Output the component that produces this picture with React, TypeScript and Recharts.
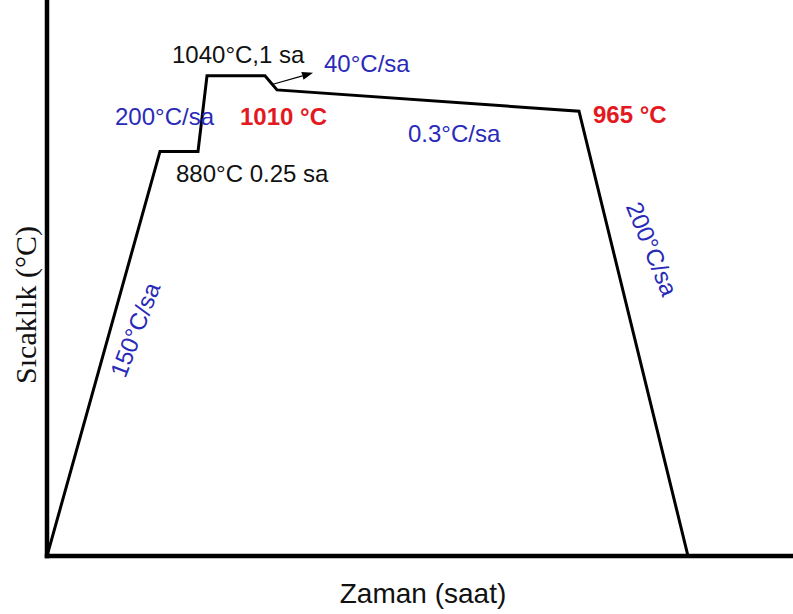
import { LineChart, Line, XAxis, YAxis, ReferenceDot, ReferenceLine, Label } from 'recharts';

// heat-treatment schedule; time axis is schematic (not to scale)
const stepTime = [0, 11.3, 15.1, 16.0, 21.8, 23.0, 53.2, 64.1];
const stepTemp = [25, 880, 880, 1040, 1040, 1010, 965, 25];

const profile = stepTime.map((t, i) => ({ t, temp: stepTemp[i] }));

const BLUE = '#2a2ab8';
const RED = '#e3191f';
const SANS = '"Liberation Sans", Arial, sans-serif';
const SERIF = '"Liberation Serif", "Times New Roman", serif';

type Note = { text: string; t: number; temp: number; color: string; bold?: boolean; angle?: number };

// segment annotations, anchored in chart coordinates
const notes: Note[] = [
  { text: '1040°C,1 sa', t: 12.5, temp: 1067, color: '#111' },
  { text: '40°C/sa', t: 27.7, temp: 1048, color: BLUE },
  { text: '200°C/sa', t: 6.8, temp: 936, color: BLUE },
  { text: '1010 °C', t: 19.3, temp: 936, color: RED, bold: true },
  { text: '880°C 0.25 sa', t: 12.9, temp: 815, color: '#111' },
  { text: '0.3°C/sa', t: 36.1, temp: 900, color: BLUE },
  { text: '965 °C', t: 54.6, temp: 940, color: RED, bold: true },
  { text: '150°C/sa', t: 8.8, temp: 503, color: BLUE, angle: -69 },
  { text: '200°C/sa', t: 60.5, temp: 674, color: BLUE, angle: 68 },
];

// small pointer from the 40°C/sa step to its label
const arrowFrom = { x: 22.6, y: 1022 };
const arrowTo = { x: 26.6, y: 1046 };

const noteShape = (n: Note) => (p: any) => {
  if (n.angle) {
    return (
      <text
        x={p.cx}
        y={p.cy}
        textAnchor="middle"
        dominantBaseline="central"
        transform={`rotate(${n.angle}, ${p.cx}, ${p.cy})`}
        fill={n.color}
        fontFamily={SANS}
        fontSize={24}
      >
        {n.text}
      </text>
    );
  }
  return (
    <text x={p.cx} y={p.cy} fill={n.color} fontFamily={SANS} fontSize={24} fontWeight={n.bold ? 700 : 400}>
      {n.text}
    </text>
  );
};

const Arrow = (p: any) => {
  const { x1, y1, x2, y2 } = p;
  const a = Math.atan2(y2 - y1, x2 - x1);
  const len = 11;
  const half = 4;
  const bx = x2 - len * Math.cos(a);
  const by = y2 - len * Math.sin(a);
  const pts = [
    `${x2},${y2}`,
    `${bx + half * Math.sin(a)},${by - half * Math.cos(a)}`,
    `${bx - half * Math.sin(a)},${by + half * Math.cos(a)}`,
  ].join(' ');
  return (
    <g>
      <line x1={x1} y1={y1} x2={bx} y2={by} stroke="#000" strokeWidth={1.2} />
      <polygon points={pts} fill="#000" />
    </g>
  );
};

export default function App() {
  const axisLine = { stroke: '#000', strokeWidth: 4.5, strokeLinecap: 'square' as const };
  return (
    <div style={{ position: 'absolute', left: 0, top: 0, background: '#fff' }}>
      <LineChart width={793} height={614} data={profile} margin={{ top: 0, right: 0, bottom: 0, left: 0 }}>
        <XAxis
          type="number"
          dataKey="t"
          domain={[0, 74.6]}
          allowDataOverflow
          height={58}
          tick={false}
          tickLine={false}
          axisLine={axisLine}
        >
          <Label
            content={({ viewBox }: any) => (
              <text
                x={viewBox.x + viewBox.width / 2 + 3}
                y={viewBox.y + 47}
                textAnchor="middle"
                fontFamily={SANS}
                fontSize={28}
                fill="#111"
              >
                Zaman (saat)
              </text>
            )}
          />
        </XAxis>
        <YAxis
          type="number"
          domain={[25, 1200]}
          allowDataOverflow
          width={47}
          tick={false}
          tickLine={false}
          axisLine={axisLine}
        >
          <Label
            content={({ viewBox }: any) => {
              const x = viewBox.x + 36;
              const y = viewBox.y + 305;
              return (
                <text
                  x={x}
                  y={y}
                  textAnchor="middle"
                  transform={`rotate(-90, ${x}, ${y})`}
                  fontFamily={SERIF}
                  fontSize={30}
                  fill="#111"
                >
                  Sıcaklık (°C)
                </text>
              );
            }}
          />
        </YAxis>
        <Line
          type="linear"
          dataKey="temp"
          stroke="#000"
          strokeWidth={3}
          strokeLinejoin="miter"
          dot={false}
          activeDot={false}
          isAnimationActive={false}
        />
        <ReferenceLine segment={[arrowFrom, arrowTo]} ifOverflow="visible" shape={Arrow} />
        {notes.map((n, i) => (
          <ReferenceDot key={i} x={n.t} y={n.temp} r={0} ifOverflow="visible" shape={noteShape(n)} />
        ))}
      </LineChart>
    </div>
  );
}
